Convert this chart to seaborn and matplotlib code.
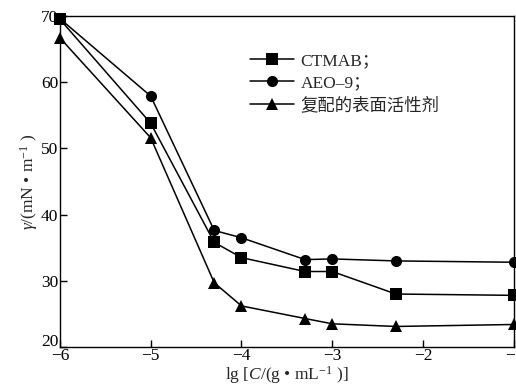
import pandas as pd
import matplotlib.pyplot as plt
import matplotlib.transforms as mtransforms
import seaborn as sns

# 数据
lgC = [-6, -5, -4.3, -4, -3.3, -3, -2.3, -1]
ctmab = [69.5, 53.8, 35.8, 33.5, 31.4, 31.4, 28.0, 27.8]
aeo9 = [69.6, 57.9, 37.6, 36.5, 33.2, 33.3, 33.0, 32.8]
mixed = [66.7, 51.6, 29.7, 26.2, 24.3, 23.5, 23.1, 23.4]
names = ['CTMAB；', 'AEO–9；', '复配的表面活性剂']

df = pd.DataFrame({
    'lgC': lgC * 3,
    'gamma': ctmab + aeo9 + mixed,
    'name': [names[0]] * 8 + [names[1]] * 8 + [names[2]] * 8,
})

sns.set_style('ticks')
plt.rcParams['font.family'] = ['Liberation Serif', 'Noto Sans CJK SC']
plt.rcParams['mathtext.fontset'] = 'custom'
plt.rcParams['mathtext.rm'] = 'Liberation Serif'
plt.rcParams['mathtext.it'] = 'Liberation Serif:italic'

fig = plt.figure(figsize=(5.16, 3.89), dpi=100)
ax = fig.add_axes([0.116, 0.108, 0.880, 0.851])

sns.lineplot(data=df, x='lgC', y='gamma', hue='name', style='name',
             palette=['black'] * 3, markers={names[0]: 's', names[1]: 'o', names[2]: '^'},
             dashes=False, markersize=8, linewidth=1.1, markeredgewidth=0,
             ax=ax, clip_on=False)

ax.set_xlim(-6, -1)
ax.set_ylim(20, 70)
ax.set_xticks([-6, -5, -4, -3, -2, -1])
ax.set_xticklabels(['−6', '−5', '−4', '−3', '−2', '−1'])
ax.set_yticks([20, 30, 40, 50, 60, 70])
ax.tick_params(direction='in', length=5, width=1, labelsize=12.5, colors='black', pad=1)
for s in ax.spines.values():
    s.set_visible(True)
    s.set_linewidth(1)
    s.set_color('black')

# "20" 稍微上移, 避免和 "−6" 重叠
lab20 = ax.get_yticklabels()[0]
lab20.set_transform(lab20.get_transform() + mtransforms.ScaledTranslation(0, 5 / 72, fig.dpi_scale_trans))

ax.set_xlabel(r'lg [$C$/(g • mL$^{-1}$ )]', fontsize=12.5, labelpad=0)
ax.set_ylabel(r'$\gamma$/(mN • m$^{-1}$ )', fontsize=12.5, labelpad=1)

leg = ax.legend(loc='upper left', bbox_to_anchor=(0.40, 0.915), frameon=False,
                fontsize=12.5, handlelength=2.5, handletextpad=0.4, labelspacing=0.35,
                borderpad=0)
for h in leg.legend_handles:
    h.set_color('black')

plt.savefig('out.png', dpi=100)
